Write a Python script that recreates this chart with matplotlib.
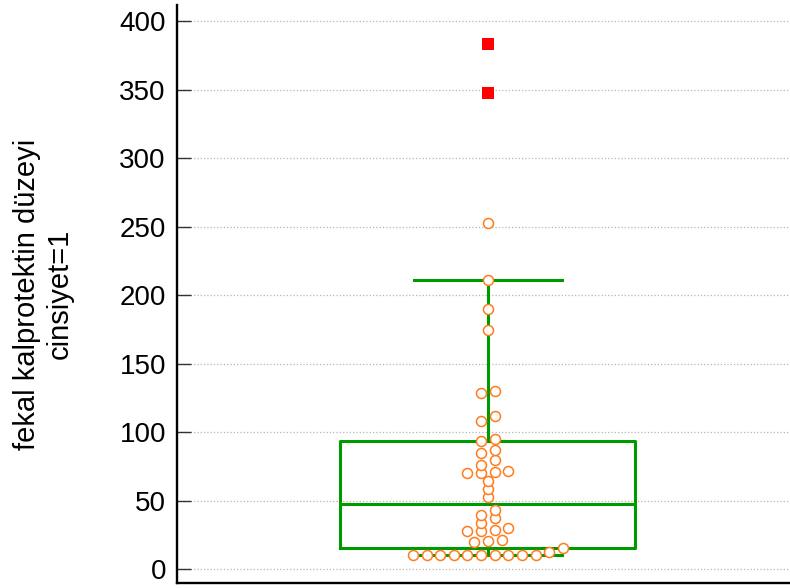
import matplotlib.pyplot as plt
import numpy as np

plt.rcParams['font.family'] = ['Liberation Sans', 'DejaVu Sans']

# fecal calprotectin, group cinsiyet=1
fcp = [10, 10, 10, 10, 10, 10, 10, 10, 10, 10, 12.2, 15.1,
       19.5, 20.4, 21.4, 27.7, 28.0, 28.7, 29.9, 33.8, 37.2, 39.4, 42.8,
       52.8, 58.2, 64.5, 69.8, 70.0, 70.6, 71.3, 76.0, 79.6, 84.9, 86.9,
       93.7, 95.1, 107.8, 111.7, 128.2, 129.7, 174.5, 189.8, 211.0, 252.6,
       347.4, 383.2]
yticks = [0, 50, 100, 150, 200, 250, 300, 350, 400]
ylabel = 'fekal kalprotektin düzeyi\ncinsiyet=1'

green = '#009a00'
orange = '#ff7b1c'

v = np.sort(np.array(fcp, dtype=float))
q1, q3 = np.percentile(v, [25, 75], method='nearest')
med = np.median(v)
iqr = q3 - q1
whishi = v[v <= q3 + 1.5 * iqr].max()
whislo = v[v >= q1 - 1.5 * iqr].min()
far = v[v > q3 + 3 * iqr]
shown = v[v <= q3 + 3 * iqr]

# dot plot: group values into rows, spread each row sideways around the box centre
bin_h = 7.3
col_step = 0.0231
rows = np.floor((shown - shown.min()) / bin_h)
xs = np.zeros(len(shown))
for r in np.unique(rows):
    idx = np.where(rows == r)[0]
    n = len(idx)
    xs[idx] = (2 * np.arange(n) - (n - 1)) * col_step

fig = plt.figure(figsize=(7.9, 5.88), dpi=100)
ax = fig.add_axes([177 / 790, 5 / 588, 613 / 790, 578 / 588])

stats = [{'med': med, 'q1': q1, 'q3': q3, 'whislo': whislo, 'whishi': whishi, 'fliers': []}]
lp = dict(color=green, linewidth=2.2)
ax.bxp(stats, positions=[0], widths=1.0, capwidths=0.5, showfliers=False,
       boxprops=lp, medianprops=lp, whiskerprops=lp, capprops=lp,
       manage_ticks=False, zorder=2)

ax.plot(xs, shown, 'o', markersize=7.2, markerfacecolor='white',
        markeredgecolor=orange, markeredgewidth=1.1, zorder=3)
ax.plot(np.zeros(len(far)), far, 's', markersize=8, color='#ff0000',
        markeredgewidth=0, zorder=3)

ax.set_xlim(-1.054, 1.024)
ax.set_ylim(-10.2, 411.7)
ax.set_yticks(yticks)
ax.set_xticks([])
ax.tick_params(axis='y', direction='in', length=10, width=1, color='#333333',
               labelsize=20, pad=8)
ax.yaxis.grid(True, linestyle=':', color='#b5b5b5', linewidth=0.9)
ax.set_axisbelow(True)

for side in ['top', 'right']:
    ax.spines[side].set_visible(False)
for side in ['left', 'bottom']:
    ax.spines[side].set_linewidth(1.7)
    ax.spines[side].set_color('black')

ax.set_ylabel(ylabel, fontsize=21, linespacing=1.25)
ax.yaxis.set_label_coords(-0.168, 0.5)

fig.savefig('out.png', dpi=100)
plt.close(fig)
